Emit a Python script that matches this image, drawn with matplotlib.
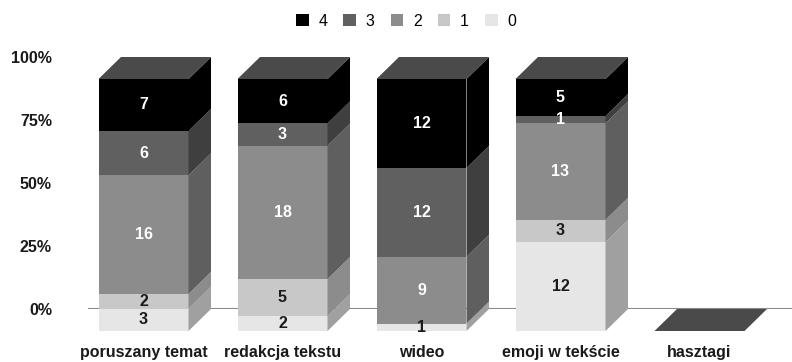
import matplotlib.pyplot as plt
from matplotlib.patches import Polygon, Patch

plt.rcParams['font.family'] = ['Liberation Sans', 'DejaVu Sans']

categories = ["poruszany temat", "redakcja tekstu", "wideo", "emoji w tekście", "hasztagi"]
levels = ["0", "1", "2", "3", "4"]
counts = {
    "0": [3, 2, 1, 12, 0],
    "1": [2, 5, 0, 3, 0],
    "2": [16, 18, 9, 13, 0],
    "3": [6, 3, 12, 1, 0],
    "4": [7, 6, 12, 5, 0],
}
yticks = [0, 25, 50, 75, 100]

front_col = {"0": "#e6e6e6", "1": "#c8c8c8", "2": "#8c8c8c", "3": "#606060", "4": "#000000"}
side_col = {"0": "#a0a0a0", "1": "#8c8c8c", "2": "#5f5f5f", "3": "#3f3f3f", "4": "#000000"}
text_col = {"0": "#1a1a1a", "1": "#1a1a1a", "2": "white", "3": "white", "4": "white"}
top_col = "#4a4a4a"
fs = 11.5

W, H = 792, 362
fig = plt.figure(figsize=(W / 100, H / 100), dpi=100)
# axes: 0% at y=309 px, 100% at y=57 px, x from 88 px to the right edge
ax = fig.add_axes([88 / W, (H - 309) / H, 1 - 88 / W, 252 / H])
step = 139.0
ax.set_xlim((88 - 143.5) / step, (792 - 143.5) / step)
ax.set_ylim(0, 100)

bw = 90 / step        # front face width
dx = 22.5 / step      # depth, x
dy = 22 / 2.52        # depth, y (percent units)

ax.axhline(0, color="#8a8a8a", lw=1.5, zorder=1)

for i, cat in enumerate(categories):
    total = sum(counts[l][i] for l in levels)
    xl, xr = i - bw / 2, i + bw / 2
    base = 0.0
    for l in levels:
        v = counts[l][i]
        if v == 0:
            continue
        h = v / total * 100
        y0, y1 = base - dy, base + h - dy
        ax.add_patch(Polygon([(xl, y0), (xr, y0), (xr, y1), (xl, y1)],
                             closed=True, fc=front_col[l], ec="none", zorder=3, clip_on=False))
        ax.add_patch(Polygon([(xr, y0), (xr + dx, y0 + dy), (xr + dx, y1 + dy), (xr, y1)],
                             closed=True, fc=side_col[l], ec="none", zorder=3, clip_on=False))
        base += h
    # top face of the stack
    yt = base - dy
    ax.add_patch(Polygon([(xl, yt), (xr, yt), (xr + dx, yt + dy), (xl + dx, yt + dy)],
                         closed=True, fc=top_col, ec="none", zorder=4, clip_on=False))
    # segment labels
    base = 0.0
    for l in levels:
        v = counts[l][i]
        if v == 0:
            continue
        h = v / total * 100
        ax.text(i, base + h / 2 - dy, str(v), ha="center", va="center", fontsize=fs,
                fontweight="bold", color=text_col[l], zorder=6)
        base += h
    ax.text(i, -dy - 8.6, cat, ha="center", va="center", fontsize=fs,
            fontweight="bold", color="#1a1a1a")

ax.set_yticks(yticks)
ax.set_yticklabels([f"{t}%" for t in yticks], fontsize=fs, fontweight="bold", color="#1a1a1a")
ax.tick_params(axis="y", length=0, pad=26)
ax.set_xticks([])
for s in ax.spines.values():
    s.set_visible(False)
ax.patch.set_visible(False)

handles = [Patch(fc=front_col[l], ec="none", label=l) for l in reversed(levels)]
fig.legend(handles=handles, loc="center", bbox_to_anchor=(406 / W, 1 - 21 / H), ncol=5,
           frameon=False, fontsize=fs, handlelength=0.8, handleheight=0.8,
           handletextpad=0.6, columnspacing=1.0)

fig.savefig("out.png", dpi=100, facecolor="white")
